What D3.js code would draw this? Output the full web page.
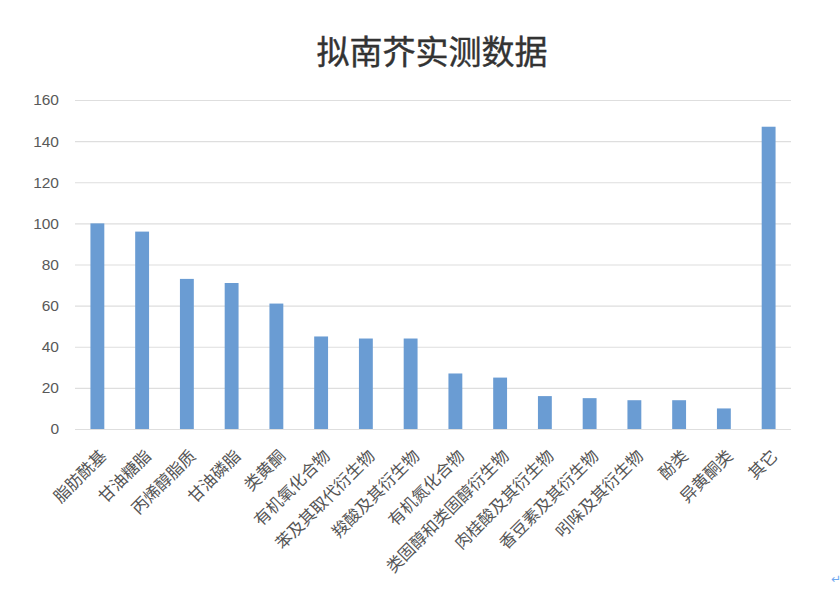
<!DOCTYPE html>
<html>
<head>
<meta charset="utf-8">
<script src="https://cdn.jsdelivr.net/npm/d3@7"></script>
<style>
  body { margin: 0; background: #fff; }
  svg { display: block; }
</style>
</head>
<body>
<svg id="chart"></svg>
<script>
const title = "拟南芥实测数据";
const categories = ["脂肪酰基", "甘油糖脂", "丙烯醇脂质", "甘油磷脂", "类黄酮", "有机氧化合物",
  "苯及其取代衍生物", "羧酸及其衍生物", "有机氮化合物", "类固醇和类固醇衍生物",
  "肉桂酸及其衍生物", "香豆素及其衍生物", "吲哚及其衍生物", "酚类", "异黄酮类", "其它"];
const values = [100, 96, 73, 71, 61, 45, 44, 44, 27, 25, 16, 15, 14, 14, 10, 147];
const yTicks = [0, 20, 40, 60, 80, 100, 120, 140, 160];

const width = 840, height = 594;
const margin = {top: 100, right: 49, bottom: 165, left: 75};
const font = "'Noto Sans CJK SC', 'Noto Sans', sans-serif";

const svg = d3.select("#chart")
    .attr("width", width)
    .attr("height", height);

const x = d3.scaleBand()
    .domain(categories)
    .range([margin.left, width - margin.right])
    .paddingInner(0.69)
    .paddingOuter(0.345);

const y = d3.scaleLinear()
    .domain([0, 160])
    .range([height - margin.bottom, margin.top]);

// title
svg.append("text")
    .attr("x", 432)
    .attr("y", 64)
    .attr("text-anchor", "middle")
    .attr("font-family", font)
    .attr("font-size", 33)
    .attr("fill", "#333")
    .attr("stroke", "#333")
    .attr("stroke-width", 0.4)
    .text(title);

// gridlines + y labels
const yAxis = svg.append("g")
    .attr("transform", `translate(${margin.left},0)`)
    .call(d3.axisLeft(y).tickValues(yTicks).tickSize(-(width - margin.left - margin.right)).tickPadding(16));

yAxis.select(".domain").remove();
yAxis.selectAll(".tick line").attr("stroke", "#dedede").attr("stroke-width", 1.2);
yAxis.selectAll(".tick text")
    .attr("font-family", "'Liberation Sans', 'DejaVu Sans', sans-serif")
    .attr("font-size", 15.5)
    .attr("fill", "#595959");

// bars
svg.append("g")
    .selectAll("rect")
    .data(values)
    .enter()
    .append("rect")
    .attr("x", (d, i) => x(categories[i]))
    .attr("y", (d) => y(d))
    .attr("width", x.bandwidth())
    .attr("height", (d) => y(0) - y(d))
    .attr("fill", "#6a9cd3");

// x labels
const xAxis = svg.append("g")
    .attr("transform", `translate(0,${height - margin.bottom})`)
    .call(d3.axisBottom(x).tickSize(0).tickPadding(0));

xAxis.select(".domain").remove();
xAxis.selectAll(".tick text")
    .attr("font-family", font)
    .attr("font-size", 16.5)
    .attr("fill", "#555")
    .attr("text-anchor", "end")
    .attr("dy", 0)
    .attr("transform", "translate(10,28) rotate(-45)");

// stray paragraph mark at bottom right
svg.append("text")
    .attr("x", 831)
    .attr("y", 583)
    .attr("font-family", "'DejaVu Sans', sans-serif")
    .attr("font-size", 12)
    .attr("fill", "#6fa8f0")
    .text("↵");
</script>
</body>
</html>
